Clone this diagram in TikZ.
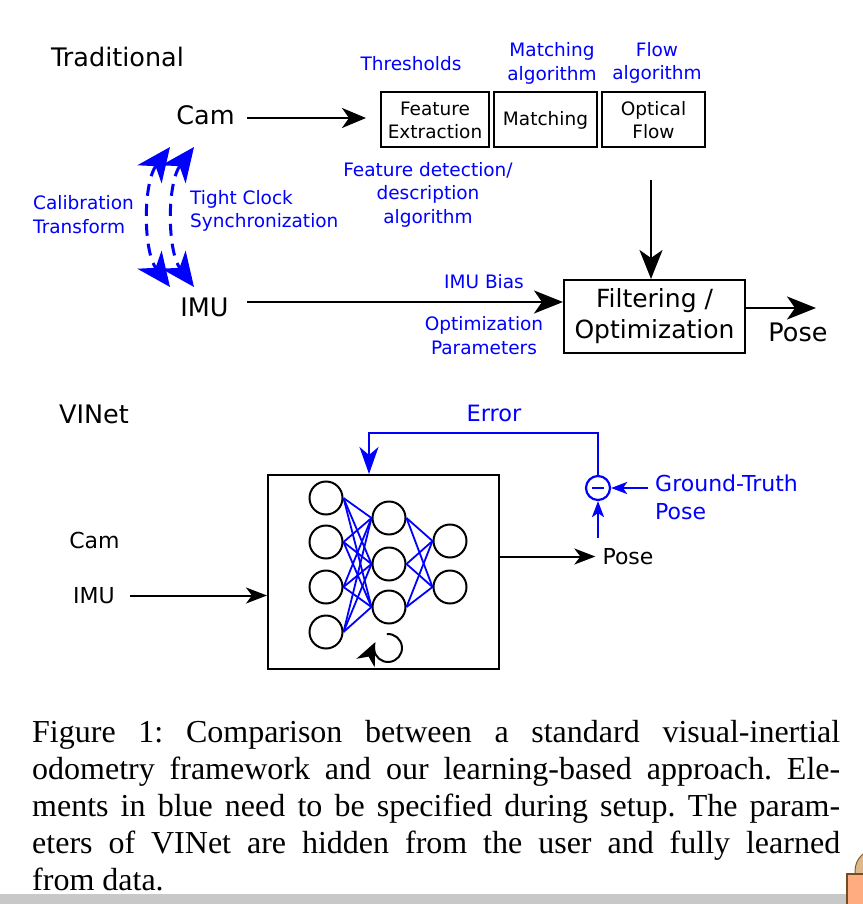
\documentclass[tikz,border=0pt]{standalone}
\usepackage{fontspec}
\usetikzlibrary{arrows.meta,calc}
\newfontfamily\dv{DejaVu Sans}
\newfontfamily\tms{Liberation Serif}
\definecolor{cblue}{RGB}{0,0,255}
\definecolor{barGray}{RGB}{200,200,200}
\definecolor{tanC}{RGB}{222,184,140}
\definecolor{orgC}{RGB}{255,172,128}
\frenchspacing
\begin{document}
\begin{tikzpicture}[x=1pt,y=-1pt,
  big/.style={font=\dv\fontsize{25.5}{31}\selectfont, inner sep=0pt, align=center},
  mid/.style={font=\dv\fontsize{22}{28}\selectfont, inner sep=0pt, align=left},
  bluelbl/.style={font=\dv\fontsize{18.5}{23.5}\selectfont, inner sep=0pt, text=cblue, align=center},
  stagebox/.style={draw, line width=2pt, minimum height=55pt, inner sep=0pt, align=center,
                   font=\dv\fontsize{18.5}{23}\selectfont},
  filtbox/.style={draw, line width=2pt, minimum width=181pt, minimum height=73pt, inner sep=0pt,
                  align=center, font=\dv\fontsize{25}{31}\selectfont},
  netbox/.style={draw, line width=2pt, minimum width=231pt, minimum height=194pt, inner sep=0pt},
  neuron/.style={circle, draw, line width=2pt, minimum size=33pt, inner sep=0pt},
  netedge/.style={cblue, line width=1.8pt},
  arrbig/.style={line width=2.5pt, -{Stealth[length=29pt,width=23pt,inset=8pt]}},
  arrcam/.style={line width=2.5pt, -{Stealth[length=24pt,width=20pt,inset=7pt]}},
  arrsmall/.style={line width=2pt, -{Stealth[length=21pt,width=16pt,inset=6pt]}},
  dasharr/.style={cblue, line width=3pt, dash pattern=on 12pt off 8pt,
                  {Stealth[length=34pt,width=30pt,inset=10pt]}-{Stealth[length=34pt,width=30pt,inset=10pt]}},
  errarr/.style={cblue, line width=2.5pt, -{Stealth[length=27pt,width=19pt,inset=8pt]}},
  bluesmall/.style={cblue, line width=2.5pt, -{Stealth[length=16pt,width=12pt,inset=4pt]}},
  capline/.style={font=\tms\fontsize{32}{37}\selectfont, inner sep=0pt, anchor=base west}
]
\useasboundingbox (0,0) rectangle (862,904);
\fill[white] (0,0) rectangle (862,904);

% ---------------- Traditional ----------------
\node[big] (trad) at (117.5,57) {Traditional};
\node[big] (cam) at (205.5,115.5) {Cam};
\node[big] (imu) at (204.5,307.5) {IMU};

\node[stagebox, minimum width=108pt] (fe) at (435,120) {Feature\\Extraction};
\node[stagebox, minimum width=103pt] (mt) at (545.5,120) {Matching};
\node[stagebox, minimum width=103pt] (of) at (653.5,120) {Optical\\Flow};

\node[bluelbl] (thr) at (411,63.5) {Thresholds};
\node[bluelbl] (malg) at (552,63.5) {Matching\\algorithm};
\node[bluelbl] (falg) at (657,63) {Flow\\algorithm};
\node[bluelbl] (fdet) at (428,194.5) {Feature detection/\\description\\algorithm};
\node[bluelbl, align=left, anchor=west] (calib) at (33,214.5) {Calibration\\Transform};
\node[bluelbl, align=left, anchor=west] (sync) at (190,211) {Tight Clock\\Synchronization};
\node[bluelbl] (bias) at (484,281.5) {IMU Bias};
\node[bluelbl] (optp) at (484,335.5) {Optimization\\Parameters};

\node[filtbox] (filt) at (654.5,316.5) {Filtering /\\Optimization};
\node[big] (pose1) at (798,332) {Pose};

\coordinate (ofdown) at (651,180);
\coordinate (imuout) at (247,302);
\coordinate (poseend) at (816,308);

\draw[arrcam] ([xshift=12pt]cam.east |- 0,118) -- ([xshift=-14pt]fe.west |- 0,118);
\draw[arrbig] (ofdown) -- (ofdown |- filt.north);
\draw[arrbig] (imuout) -- (imuout -| filt.west);
\draw[arrbig] (filt.east |- poseend) -- (poseend);

% calibration / sync dashed arrows
\coordinate (c1t) at (170,147);
\coordinate (c1b) at (170,287);
\coordinate (c2t) at (194,147);
\coordinate (c2b) at (194,287);
\draw[dasharr] (c1t) .. controls (143,183) and (143,251) .. (c1b);
\draw[dasharr] (c2t) .. controls (167,183) and (167,251) .. (c2b);

% ---------------- VINet ----------------
\node[big] (vinet) at (94,414) {VINet};
\node[mid] (camb) at (94.5,540) {Cam};
\node[mid] (imub) at (94,595.5) {IMU};
\node[netbox] (net) at (383.5,572) {};

\node[neuron] (a1) at (326,498) {};
\node[neuron] (a2) at (326,542) {};
\node[neuron] (a3) at (326,587) {};
\node[neuron] (a4) at (326,632) {};
\node[neuron] (b1) at (389,518) {};
\node[neuron] (b2) at (389,564) {};
\node[neuron] (b3) at (389,607) {};
\node[neuron] (c1) at (450,541) {};
\node[neuron] (c2) at (450,587) {};
\foreach \i in {1,2,3,4}{\foreach \j in {1,2,3}{\draw[netedge] (a\i.east) -- (b\j.west);}}
\foreach \i in {1,2,3}{\foreach \j in {1,2}{\draw[netedge] (b\i.east) -- (c\j.west);}}

\coordinate (loopc) at (388,648);
\draw[line width=2pt, -{Stealth[length=23pt,width=20pt,inset=7pt]}]
  (loopc) ++(95:14pt) arc[start angle=95, end angle=-205, radius=14pt];

\draw[arrsmall] ([xshift=15pt]imub.east) -- (imub.east -| net.west);

\node[mid] (poseb) at (628,556.5) {Pose};
\draw[arrsmall] (net.east |- poseb) -- ([xshift=-7pt]poseb.west);

\node[circle, draw=cblue, line width=2.2pt, minimum size=24pt, inner sep=0pt] (sum) at (598,488) {};
\draw[cblue, line width=2.5pt] ([xshift=-6pt]sum.center) -- ([xshift=6pt]sum.center);

\node[mid, text=cblue, anchor=west] (gt) at (655,497) {Ground-Truth\\Pose};
\coordinate (pup) at (598,538);
\draw[bluesmall] (pup) -- (sum.south);
\draw[bluesmall] ([xshift=-7pt]gt.west |- sum) -- (sum.east);

\coordinate (erry) at (0,433);
\draw[errarr] (sum.north) -- (sum.north |- erry) -| ([xshift=-14.5pt]net.north);
\node[mid, text=cblue, font=\dv\fontsize{22.5}{28}\selectfont] (err) at (494,413.5) {Error};

% ---------------- caption ----------------
\node[capline] (cap1) at (32,742) {\makebox[808pt][s]{Figure 1: Comparison between a standard visual-inertial}};
\node[capline] (cap2) at (32,779) {\makebox[808pt][s]{odometry framework and our learning-based approach. Ele-}};
\node[capline] (cap3) at (32,816) {\makebox[808pt][s]{ments in blue need to be specified during setup. The param-}};
\node[capline] (cap4) at (32,853) {\makebox[808pt][s]{eters of VINet are hidden from the user and fully learned}};
\node[capline] (cap5) at (32,890) {from data.};

% bottom bar and corner icon
\fill[barGray] (0,894) rectangle (862,904);
\filldraw[fill=tanC, draw=brown!70!black, line width=1pt] (877,871) circle[radius=22pt];
\filldraw[fill=orgC, draw=brown!60!black, line width=1.2pt] (847,874) rectangle (885,915);
\end{tikzpicture}
\end{document}
